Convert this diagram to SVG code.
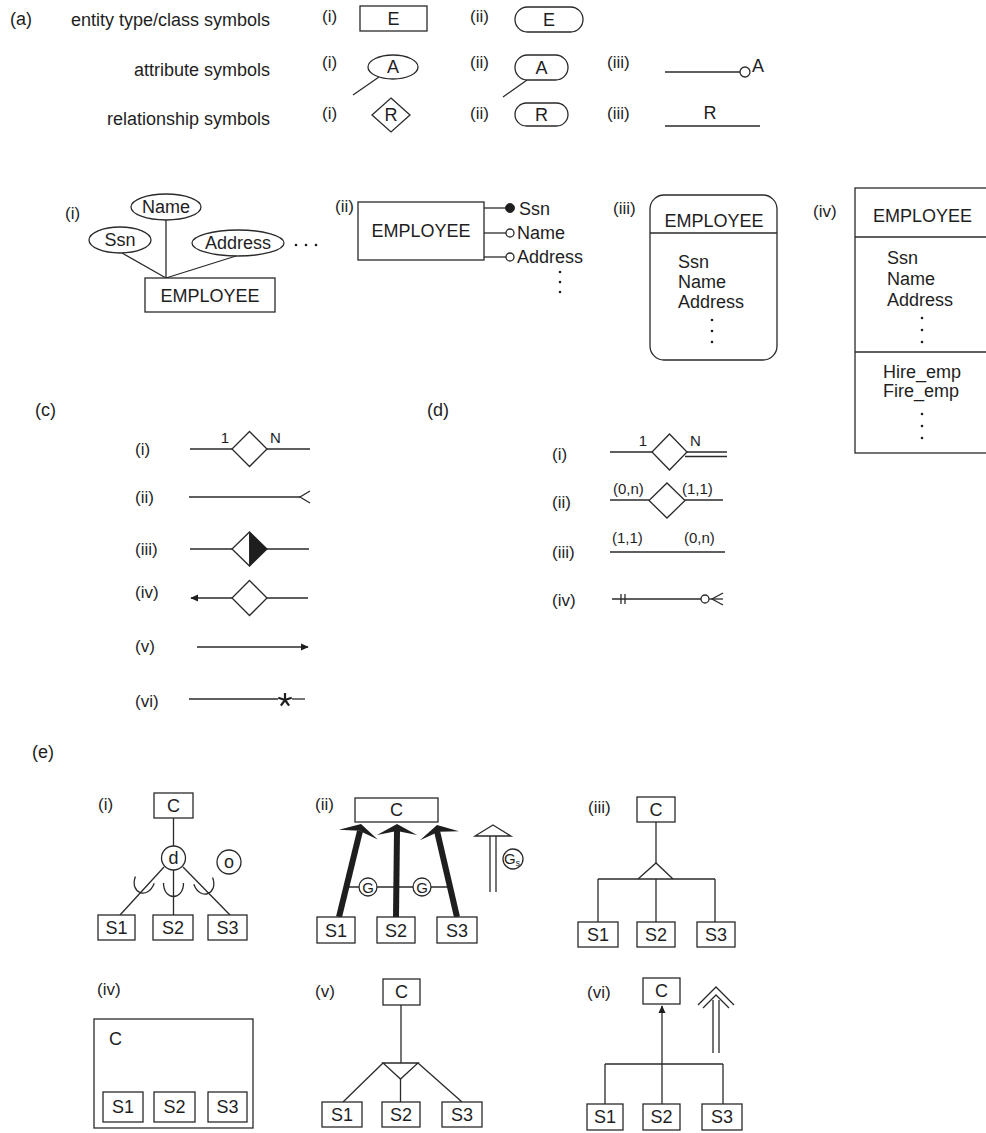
<svg xmlns="http://www.w3.org/2000/svg" width="986" height="1133" viewBox="0 0 986 1133">
<defs>
<style>
text { font-family: "Liberation Sans", Arial, Helvetica, sans-serif; fill: #1e1e1e; }
.l { font-size: 18px; }
.m { font-size: 17px; }
.n { font-size: 15px; }
.c { text-anchor: middle; }
.e { text-anchor: end; }
.s { fill: none; stroke: #2a2a2a; stroke-width: 1.3; }
.b { fill: #fff; stroke: #2a2a2a; stroke-width: 1.3; }
.f { fill: #1e1e1e; stroke: #2a2a2a; stroke-width: 1; }
.th { fill: none; stroke: #1e1e1e; stroke-width: 6; }
.dot { fill: #1e1e1e; }
</style>
<marker id="ah" viewBox="0 0 10 10" refX="9" refY="5" markerWidth="8" markerHeight="6" orient="auto"><path d="M0,0.5 L10,5 L0,9.5 Z" fill="#1e1e1e"/></marker>
<path id="cup" d="M-10,-14 C-10,4 10,4 10,-14" fill="none" stroke="#2a2a2a" stroke-width="1.3"/>
<path id="bh" d="M0,0 L20,11 L0,7 L-20,11 Z" fill="#1e1e1e"/>
</defs>
<rect width="986" height="1133" fill="#fff"/>

<!-- (a) -->
<g id="panel-a">
<text class="l" x="10" y="25">(a)</text>
<text class="l e" x="270" y="26">entity type/class symbols</text>
<text class="m" x="322" y="22">(i)</text>
<g id="a-entity-rect"><rect class="b" x="360" y="6" width="67" height="25"/><text class="l c" x="393.5" y="25">E</text></g>
<text class="m" x="470" y="22">(ii)</text>
<g id="a-entity-round"><rect class="b" x="515" y="7" width="68" height="25" rx="12.5"/><text class="l c" x="549" y="26">E</text></g>

<text class="l e" x="270" y="76">attribute symbols</text>
<text class="m" x="322" y="68">(i)</text>
<g id="a-attr-ellipse"><line class="s" x1="353" y1="95" x2="379" y2="77"/><ellipse class="b" cx="393" cy="67" rx="25" ry="12"/><text class="l c" x="393" y="73">A</text></g>
<text class="m" x="470" y="68">(ii)</text>
<g id="a-attr-round"><line class="s" x1="503" y1="97" x2="527" y2="80"/><rect class="b" x="515" y="55" width="53" height="25" rx="12.5"/><text class="l c" x="541.5" y="74">A</text></g>
<text class="m" x="607" y="68">(iii)</text>
<g id="a-attr-line"><line class="s" x1="665" y1="72" x2="740" y2="72"/><circle class="b" cx="745" cy="72" r="5"/><text class="l" x="752" y="72">A</text></g>

<text class="l e" x="270" y="125">relationship symbols</text>
<text class="m" x="322" y="119">(i)</text>
<g id="a-rel-diamond"><path class="b" d="M391,98 L410,115 L391,132 L372,115 Z"/><text class="l c" x="391" y="121">R</text></g>
<text class="m" x="470" y="119">(ii)</text>
<g id="a-rel-round"><rect class="b" x="515" y="103" width="53" height="23" rx="11.5"/><text class="l c" x="541.5" y="121">R</text></g>
<text class="m" x="607" y="119">(iii)</text>
<g id="a-rel-line"><text class="l c" x="710" y="119">R</text><line class="s" x1="665" y1="126" x2="760" y2="126"/></g>
</g>

<!-- connectors of (b) -->
<g id="connectors">
<line class="s" x1="166" y1="220" x2="166" y2="278"/>
<line class="s" x1="122" y1="253" x2="166" y2="278"/>
<line class="s" x1="236" y1="256" x2="166" y2="278"/>
<line class="s" x1="484" y1="208" x2="506" y2="208"/>
<line class="s" x1="484" y1="233" x2="506" y2="233"/>
<line class="s" x1="484" y1="257" x2="506" y2="257"/>
</g>
<g id="b-i">
<text class="m" x="65" y="219">(i)</text>
<g id="b-name"><ellipse class="b" cx="166" cy="207" rx="35" ry="13"/><text class="l c" x="166" y="213">Name</text></g>
<g id="b-ssn"><ellipse class="b" cx="120" cy="240" rx="31" ry="13"/><text class="l c" x="120" y="246">Ssn</text></g>
<g id="b-address"><ellipse class="b" cx="238" cy="243" rx="46" ry="13"/><text class="l c" x="238" y="249">Address</text></g>
<circle class="dot" cx="296" cy="245" r="1.3"/><circle class="dot" cx="306" cy="245" r="1.3"/><circle class="dot" cx="316" cy="245" r="1.3"/>
<g id="b-employee1"><rect class="b" x="145" y="278" width="130" height="34"/><text class="l c" x="210" y="302">EMPLOYEE</text></g>
</g>

<g id="b-ii">
<text class="m" x="335" y="212">(ii)</text>
<g id="b-employee2"><rect class="b" x="358" y="202" width="126" height="58"/><text class="l c" x="421" y="237">EMPLOYEE</text></g>
<circle class="f" cx="510" cy="208" r="4.5"/>
<circle class="b" cx="510" cy="233" r="4"/>
<circle class="b" cx="510" cy="257" r="4"/>
<text class="l" x="519" y="215">Ssn</text>
<text class="l" x="517" y="239">Name</text>
<text class="l" x="517" y="263">Address</text>
<circle class="dot" cx="560" cy="272" r="1.3"/><circle class="dot" cx="560" cy="282" r="1.3"/><circle class="dot" cx="560" cy="292" r="1.3"/>
</g>

<g id="b-iii">
<text class="m" x="613" y="214">(iii)</text>
<rect class="b" x="650" y="195" width="127" height="165" rx="14"/>
<line class="s" x1="650" y1="233" x2="777" y2="233"/>
<text class="l c" x="714" y="227">EMPLOYEE</text>
<text class="l" x="678" y="268">Ssn</text>
<text class="l" x="678" y="288">Name</text>
<text class="l" x="678" y="308">Address</text>
<circle class="dot" cx="712" cy="320" r="1.3"/><circle class="dot" cx="712" cy="331" r="1.3"/><circle class="dot" cx="712" cy="342" r="1.3"/>
</g>

<g id="b-iv">
<text class="m" x="813" y="217">(iv)</text>
<rect class="b" x="855" y="188" width="150" height="265"/>
<line class="s" x1="855" y1="237" x2="986" y2="237"/>
<line class="s" x1="855" y1="352" x2="986" y2="352"/>
<text class="l" x="873" y="222">EMPLOYEE</text>
<text class="l" x="887" y="264">Ssn</text>
<text class="l" x="887" y="285">Name</text>
<text class="l" x="887" y="306">Address</text>
<circle class="dot" cx="922" cy="318" r="1.3"/><circle class="dot" cx="922" cy="330" r="1.3"/><circle class="dot" cx="922" cy="342" r="1.3"/>
<text class="l" x="883" y="378">Hire_emp</text>
<text class="l" x="883" y="397">Fire_emp</text>
<circle class="dot" cx="922" cy="414" r="1.3"/><circle class="dot" cx="922" cy="426" r="1.3"/><circle class="dot" cx="922" cy="438" r="1.3"/>
</g>

<!-- (c) -->
<g id="panel-c">
<text class="l" x="35" y="416">(c)</text>
<text class="m" x="135" y="455">(i)</text>
<line class="s" x1="190" y1="449" x2="232" y2="449"/>
<path class="b" d="M249.5,431.5 L267,449 L249.5,466.5 L232,449 Z"/>
<line class="s" x1="267" y1="449" x2="310" y2="449"/>
<text class="n c" x="225" y="443">1</text>
<text class="n" x="270" y="443">N</text>

<text class="m" x="135" y="503">(ii)</text>
<line class="s" x1="189" y1="497" x2="300" y2="497"/>
<polyline class="s" points="310,491 300,497 310,503"/>

<text class="m" x="135" y="555">(iii)</text>
<line class="s" x1="190" y1="549" x2="232" y2="549"/>
<path class="b" d="M249.5,532 L267,549 L249.5,566 L232,549 Z"/>
<path class="f" d="M249.5,532 L267,549 L249.5,566 Z"/>
<line class="s" x1="267" y1="549" x2="309" y2="549"/>

<text class="m" x="135" y="598">(iv)</text>
<line class="s" x1="232" y1="598" x2="191" y2="598" marker-end="url(#ah)"/>
<path class="b" d="M249.5,580.5 L267,598 L249.5,615.5 L232,598 Z"/>
<line class="s" x1="267" y1="598" x2="308" y2="598"/>

<text class="m" x="135" y="652">(v)</text>
<line class="s" x1="197" y1="647" x2="308" y2="647" marker-end="url(#ah)"/>

<text class="m" x="135" y="707">(vi)</text>
<line class="s" x1="189" y1="699" x2="278" y2="699"/>
<g id="c-star" transform="translate(285,700)">
<path d="M0,-7 L0,0 M-6.7,-2.2 L0,0 M6.7,-2.2 L0,0 M-4.1,5.7 L0,0 M4.1,5.7 L0,0" fill="none" stroke="#1e1e1e" stroke-width="2.2"/>
</g>
<line class="s" x1="292" y1="699" x2="305" y2="699"/>
</g>

<!-- (d) -->
<g id="panel-d">
<text class="l" x="427" y="416">(d)</text>
<text class="m" x="552" y="460">(i)</text>
<line class="s" x1="610" y1="452" x2="652" y2="452"/>
<path class="b" d="M669.5,434 L687,452 L669.5,470 L652,452 Z"/>
<line class="s" x1="687" y1="452" x2="727" y2="452"/>
<line class="s" x1="685" y1="456.5" x2="727" y2="456.5"/>
<text class="n c" x="643" y="446">1</text>
<text class="n" x="690" y="446">N</text>

<text class="m" x="552" y="508">(ii)</text>
<line class="s" x1="610" y1="500" x2="649" y2="500"/>
<path class="b" d="M667,483 L685,500.5 L667,518 L649,500.5 Z"/>
<line class="s" x1="685" y1="500" x2="723" y2="500"/>
<text class="n" x="613" y="494">(0,n)</text>
<text class="n" x="682" y="494">(1,1)</text>

<text class="m" x="552" y="558">(iii)</text>
<text class="n" x="612" y="543">(1,1)</text>
<text class="n" x="684" y="543">(0,n)</text>
<line class="s" x1="610" y1="552" x2="725" y2="552"/>

<text class="m" x="552" y="606">(iv)</text>
<line class="s" x1="612" y1="599" x2="701" y2="599"/>
<line class="s" x1="621" y1="594" x2="621" y2="604"/>
<line class="s" x1="625" y1="594" x2="625" y2="604"/>
<circle class="b" cx="705" cy="599" r="4"/>
<line class="s" x1="709" y1="599" x2="723" y2="599"/>
<polyline class="s" points="723,593 712,599 723,605"/>
</g>

<!-- (e) -->
<text class="l" x="32" y="758">(e)</text>

<g id="e-i">
<text class="m" x="98" y="810">(i)</text>
<line class="s" x1="173.5" y1="818" x2="173.5" y2="846"/>
<line class="s" x1="164" y1="867" x2="120" y2="915"/>
<line class="s" x1="173.5" y1="870" x2="173.5" y2="915"/>
<line class="s" x1="183" y1="867" x2="230" y2="915"/>
<use href="#cup" transform="translate(140,893) rotate(20)"/>
<use href="#cup" transform="translate(173.5,897)"/>
<use href="#cup" transform="translate(208,894) rotate(-20)"/>
<g id="ei-C"><rect class="b" x="154" y="793" width="39" height="25"/><text class="l c" x="173.5" y="812">C</text></g>
<g id="ei-d"><circle class="b" cx="173.5" cy="858" r="12"/><text class="l c" x="173.5" y="864">d</text></g>
<g id="ei-o"><circle class="b" cx="229" cy="862" r="12"/><text class="l c" x="229" y="868">o</text></g>
<g id="ei-S1"><rect class="b" x="98" y="915" width="37" height="25"/><text class="l c" x="116.5" y="934">S1</text></g>
<g id="ei-S2"><rect class="b" x="153" y="915" width="40" height="25"/><text class="l c" x="173" y="934">S2</text></g>
<g id="ei-S3"><rect class="b" x="208" y="915" width="39" height="25"/><text class="l c" x="227.5" y="934">S3</text></g>
</g>

<g id="e-ii">
<text class="m" x="315" y="810">(ii)</text>
<g id="eii-C"><rect class="b" x="355" y="798" width="83" height="24"/><text class="l c" x="396.5" y="816">C</text></g>
<line class="s" x1="346" y1="887" x2="452" y2="887"/>
<line class="th" x1="339" y1="917" x2="360" y2="831"/>
<line class="th" x1="396" y1="917" x2="397" y2="831"/>
<line class="th" x1="457" y1="917" x2="437" y2="831"/>
<use href="#bh" transform="translate(361,824) rotate(14)"/>
<use href="#bh" transform="translate(397,824)"/>
<use href="#bh" transform="translate(437,825) rotate(-13)"/>
<g id="eii-G1"><circle class="b" cx="368" cy="887" r="9"/><text class="n c" x="368" y="892.5">G</text></g>
<g id="eii-G2"><circle class="b" cx="422" cy="887" r="9"/><text class="n c" x="422" y="892.5">G</text></g>
<path class="b" d="M493,825 L511,836 L475,836 Z"/>
<line class="s" x1="490" y1="836" x2="490" y2="892"/>
<line class="s" x1="496" y1="836" x2="496" y2="892"/>
<g id="eii-Gs"><circle class="b" cx="513" cy="859" r="10"/><text class="n c" x="512" y="864">G<tspan font-size="9" dy="2">s</tspan></text></g>
<g id="eii-S1"><rect class="b" x="317" y="917" width="38" height="26"/><text class="l c" x="336" y="937">S1</text></g>
<g id="eii-S2"><rect class="b" x="377" y="917" width="38" height="26"/><text class="l c" x="396" y="937">S2</text></g>
<g id="eii-S3"><rect class="b" x="437" y="917" width="40" height="26"/><text class="l c" x="457" y="937">S3</text></g>
</g>

<g id="e-iii">
<text class="m" x="588" y="813">(iii)</text>
<line class="s" x1="656" y1="822" x2="656" y2="863"/>
<polyline class="s" points="638,879 656,863 673,879"/>
<line class="s" x1="598" y1="879" x2="715" y2="879"/>
<line class="s" x1="598" y1="879" x2="598" y2="922"/>
<line class="s" x1="656" y1="879" x2="656" y2="922"/>
<line class="s" x1="715" y1="879" x2="715" y2="922"/>
<g id="eiii-C"><rect class="b" x="637" y="797" width="38" height="25"/><text class="l c" x="656" y="816">C</text></g>
<g id="eiii-S1"><rect class="b" x="578" y="922" width="40" height="25"/><text class="l c" x="598" y="941">S1</text></g>
<g id="eiii-S2"><rect class="b" x="637" y="922" width="38" height="25"/><text class="l c" x="656" y="941">S2</text></g>
<g id="eiii-S3"><rect class="b" x="697" y="922" width="38" height="25"/><text class="l c" x="716" y="941">S3</text></g>
</g>

<g id="e-iv">
<text class="m" x="97" y="995">(iv)</text>
<g id="eiv-C"><rect class="b" x="94" y="1019" width="159" height="109"/><text class="l" x="109" y="1045">C</text></g>
<g id="eiv-S1"><rect class="b" x="103" y="1092" width="40" height="30"/><text class="l c" x="123" y="1113">S1</text></g>
<g id="eiv-S2"><rect class="b" x="154" y="1092" width="41" height="30"/><text class="l c" x="174.5" y="1113">S2</text></g>
<g id="eiv-S3"><rect class="b" x="208" y="1092" width="39" height="30"/><text class="l c" x="227.5" y="1113">S3</text></g>
</g>

<g id="e-v">
<text class="m" x="315" y="997">(v)</text>
<line class="s" x1="401" y1="1005" x2="401" y2="1063"/>
<path class="s" d="M383,1063 L418,1063 L400.5,1079 Z"/>
<line class="s" x1="383" y1="1063" x2="343" y2="1102"/>
<line class="s" x1="400.5" y1="1079" x2="400.5" y2="1102"/>
<line class="s" x1="418" y1="1063" x2="462" y2="1102"/>
<g id="ev-C"><rect class="b" x="383" y="979" width="37" height="26"/><text class="l c" x="401.5" y="998">C</text></g>
<g id="ev-S1"><rect class="b" x="322" y="1102" width="40" height="25"/><text class="l c" x="342" y="1121">S1</text></g>
<g id="ev-S2"><rect class="b" x="382" y="1102" width="38" height="25"/><text class="l c" x="401" y="1121">S2</text></g>
<g id="ev-S3"><rect class="b" x="442" y="1102" width="40" height="25"/><text class="l c" x="462" y="1121">S3</text></g>
</g>

<g id="e-vi">
<text class="m" x="587" y="998">(vi)</text>
<line class="s" x1="662" y1="1104" x2="662" y2="1006" marker-end="url(#ah)"/>
<line class="s" x1="605" y1="1064" x2="723" y2="1064"/>
<line class="s" x1="605" y1="1064" x2="605" y2="1104"/>
<line class="s" x1="723" y1="1064" x2="723" y2="1104"/>
<polyline class="s" points="698,1005 716,987 734,1005"/>
<polyline class="s" points="703,1008 716,995 729,1008"/>
<line class="s" x1="713" y1="1000" x2="713" y2="1053"/>
<line class="s" x1="719" y1="1000" x2="719" y2="1053"/>
<g id="evi-C"><rect class="b" x="643" y="978" width="37" height="26"/><text class="l c" x="661.5" y="997">C</text></g>
<g id="evi-S1"><rect class="b" x="587" y="1104" width="36" height="26"/><text class="l c" x="605" y="1123">S1</text></g>
<g id="evi-S2"><rect class="b" x="643" y="1104" width="37" height="26"/><text class="l c" x="661.5" y="1123">S2</text></g>
<g id="evi-S3"><rect class="b" x="702" y="1104" width="40" height="26"/><text class="l c" x="722" y="1123">S3</text></g>
</g>
</svg>
